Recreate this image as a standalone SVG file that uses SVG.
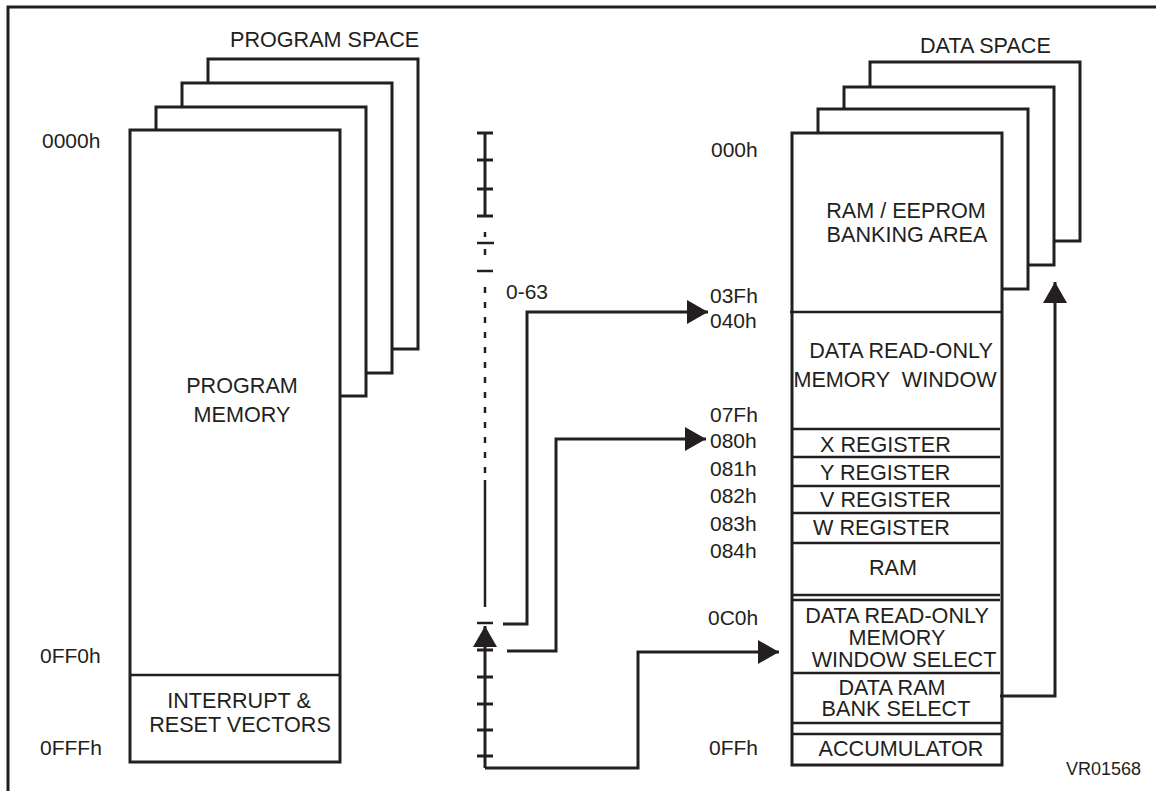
<svg xmlns="http://www.w3.org/2000/svg" width="1156" height="791" viewBox="0 0 1156 791">
<style>
  .t { font-family: "Liberation Sans", Arial, sans-serif; font-size: 21.6px; fill: #231f20; }
  .h { font-size: 21px; }
  .m { text-anchor: middle; }
  .pre { white-space: pre; }
  .box { fill: #fff; stroke: #231f20; stroke-width: 3; }
  .ln { fill: none; stroke: #231f20; stroke-width: 2.5; }
  .wire { fill: none; stroke: #231f20; stroke-width: 3; }
  .dash { fill: none; stroke: #231f20; stroke-width: 2.5; stroke-dasharray: 6 9; }
</style>
<defs>
  <marker id="ah" markerUnits="userSpaceOnUse" markerWidth="22" markerHeight="26" viewBox="0 0 22 26" refX="21" refY="13" orient="auto">
    <path d="M0,1 L21,13 L0,25 Z" fill="#231f20"/>
  </marker>
</defs>
<rect width="1156" height="791" fill="#fff"/>
<g id="frame">
  <path d="M8,791 V7 H1156" class="wire"/>
</g>

<g id="program-space">
  <rect x="208" y="59" width="210" height="290" class="box"/>
  <rect x="182" y="83" width="210" height="290" class="box"/>
  <rect x="156" y="107" width="210" height="289" class="box"/>
  <rect x="130" y="130" width="210" height="632" class="box"/>
  <line x1="130" y1="675" x2="340" y2="675" class="ln"/>
  <text x="230" y="47" class="t">PROGRAM SPACE</text>
  <text x="42" y="148" class="t h">0000h</text>
  <text x="40" y="663" class="t h">0FF0h</text>
  <text x="40" y="755" class="t h">0FFFh</text>
  <text x="242" y="393" class="t m">PROGRAM</text>
  <text x="242" y="422" class="t m">MEMORY</text>
  <text x="239" y="708" class="t m">INTERRUPT &amp;</text>
  <text x="240" y="732" class="t m">RESET VECTORS</text>
</g>

<g id="data-space">
  <rect x="870" y="62" width="210" height="179" class="box"/>
  <rect x="844" y="87" width="210" height="178" class="box"/>
  <rect x="818" y="109" width="210" height="180" class="box"/>
  <rect x="792" y="133" width="210" height="632" class="box"/>
  <line x1="790" y1="312" x2="1002" y2="312" class="ln"/>
  <line x1="792" y1="429" x2="1000" y2="429" class="ln"/>
  <line x1="792" y1="457" x2="1000" y2="457" class="ln"/>
  <line x1="792" y1="486" x2="1000" y2="486" class="ln"/>
  <line x1="792" y1="513" x2="1000" y2="513" class="ln"/>
  <line x1="792" y1="543" x2="1000" y2="543" class="ln"/>
  <line x1="792" y1="595" x2="1000" y2="595" class="ln"/>
  <line x1="792" y1="600" x2="1000" y2="600" class="ln"/>
  <line x1="792" y1="673" x2="1000" y2="673" class="ln"/>
  <line x1="792" y1="723" x2="1002" y2="723" class="ln"/>
  <line x1="792" y1="734" x2="1002" y2="734" class="ln"/>
  <text x="920" y="53" class="t">DATA SPACE</text>
  <text x="906" y="218" class="t m">RAM / EEPROM</text>
  <text x="907" y="242" class="t m">BANKING AREA</text>
  <text x="901" y="358" class="t m">DATA READ-ONLY</text>
  <text x="895" y="387" class="t m pre">MEMORY  WINDOW</text>
  <text x="820" y="452" class="t">X REGISTER</text>
  <text x="820" y="480" class="t">Y REGISTER</text>
  <text x="820" y="507" class="t">V REGISTER</text>
  <text x="813" y="535" class="t">W REGISTER</text>
  <text x="893" y="575" class="t m">RAM</text>
  <text x="897" y="623" class="t m">DATA READ-ONLY</text>
  <text x="897" y="645" class="t m">MEMORY</text>
  <text x="904" y="667" class="t m">WINDOW SELECT</text>
  <text x="892" y="695" class="t m">DATA RAM</text>
  <text x="896" y="716" class="t m">BANK SELECT</text>
  <text x="901" y="756" class="t m">ACCUMULATOR</text>
  <text x="711" y="157" class="t h">000h</text>
  <text x="710" y="303" class="t h">03Fh</text>
  <text x="710" y="328" class="t h">040h</text>
  <text x="710" y="422" class="t h">07Fh</text>
  <text x="710" y="448" class="t h">080h</text>
  <text x="710" y="476" class="t h">081h</text>
  <text x="710" y="503" class="t h">082h</text>
  <text x="710" y="531" class="t h">083h</text>
  <text x="710" y="558" class="t h">084h</text>
  <text x="708" y="625" class="t h">0C0h</text>
  <text x="709" y="755" class="t h">0FFh</text>
</g>

<g id="bank-scale">
  <line x1="485" y1="133" x2="485" y2="216" class="wire"/>
  <line x1="477" y1="133" x2="493" y2="133" class="wire"/>
  <line x1="477" y1="160" x2="493" y2="160" class="wire"/>
  <line x1="477" y1="189" x2="493" y2="189" class="wire"/>
  <line x1="477" y1="216" x2="493" y2="216" class="wire"/>
  <line x1="485" y1="232" x2="485" y2="237" class="ln"/>
  <line x1="477" y1="243" x2="494" y2="243" class="ln"/>
  <line x1="485" y1="249" x2="485" y2="255" class="ln"/>
  <line x1="477" y1="271" x2="493" y2="271" class="ln"/>
  <line x1="485" y1="287" x2="485" y2="480" class="dash"/>
  <line x1="485" y1="480" x2="485" y2="607" class="ln"/>
  <line x1="477" y1="623" x2="493" y2="623" class="ln"/>
  <line x1="485" y1="768" x2="485" y2="626" class="wire" marker-end="url(#ah)"/>
  <line x1="477" y1="650" x2="493" y2="650" class="wire"/>
  <line x1="477" y1="677" x2="493" y2="677" class="wire"/>
  <line x1="477" y1="704" x2="493" y2="704" class="wire"/>
  <line x1="477" y1="730" x2="493" y2="730" class="wire"/>
  <line x1="477" y1="756" x2="493" y2="756" class="wire"/>
  <text x="506" y="299" class="t h">0-63</text>
</g>

<g id="connectors">
  <path d="M503,624 H527 V312 H708" class="wire" marker-end="url(#ah)"/>
  <path d="M507,651 H556 V439 H706" class="wire" marker-end="url(#ah)"/>
  <path d="M485,768 H638 V652 H779" class="wire" marker-end="url(#ah)"/>
  <path d="M1000,696 H1055 V282" class="wire" marker-end="url(#ah)"/>
</g>

<text x="1066" y="775" class="t" style="font-size:18px">VR01568</text>
</svg>
